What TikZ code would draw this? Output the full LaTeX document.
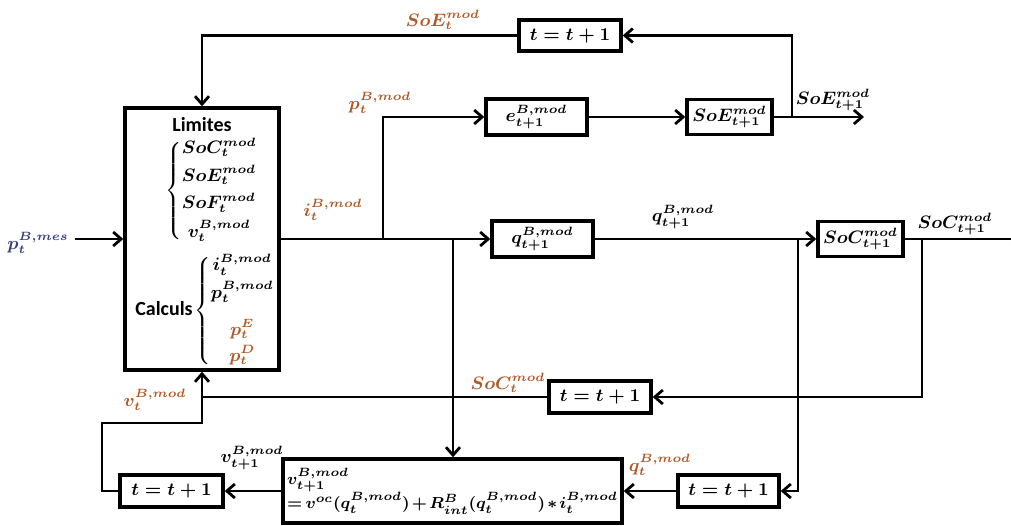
\documentclass[tikz,border=0pt]{standalone}
\usepackage{amsmath}
\usepackage{amssymb}
\usepackage[no-math]{fontspec}
\newfontfamily\calibri{Carlito}
\usepackage{tikz}
\usetikzlibrary{arrows.meta}
\definecolor{modorange}{RGB}{176,88,38}
\definecolor{mesblue}{RGB}{52,62,130}

\begin{document}
\begin{tikzpicture}[x=0.5pt, y=-0.5pt,
    box/.style={draw, line width=1.7pt, inner sep=0pt, font=\small\boldmath},
    lbl/.style={inner sep=0pt, font=\small\boldmath},
    word/.style={inner sep=0pt, font=\calibri\bfseries},
    flow/.style={line width=1.4pt, -{Straight Barb[length=4pt, width=7pt, line width=1.4pt]}},
    wire/.style={line width=1.4pt}]
    \useasboundingbox (0,0) rectangle (1011,525);

    % main block
    \node[box, minimum width=77pt, minimum height=131pt] (main) at (202,239) {};
    \node[word] (limites) at (202,125) {Limites};
    \node[lbl, anchor=west] (limvars) at (165,191)
        {$\left\{\begin{array}{@{}l@{}} SoC_t^{mod}\\[2.5pt] SoE_t^{mod}\\[2.5pt] SoF_t^{mod}\\[2.5pt] \;v_t^{B,mod}\end{array}\right.$};
    \node[word] (calculs) at (164,309) {Calculs};
    \node[lbl, anchor=west] (calcvars) at (194,311)
        {$\left\{\begin{array}{@{}c@{}} i_t^{B,mod}\\[2pt] p_t^{B,mod}\\[7pt] \color{modorange}p_t^{E}\\[2pt] \color{modorange}p_t^{D}\end{array}\right.$};

    % blocks
    \node[box, minimum width=51pt, minimum height=15.5pt] (tE) at (570,35.5) {$t=t+1$};
    \node[box, minimum width=50.5pt, minimum height=18pt] (eb) at (536.5,117) {$e_{t+1}^{B,mod}$};
    \node[box, minimum width=42.5pt, minimum height=17.5pt] (soe) at (729.5,117) {$SoE_{t+1}^{mod}$};
    \node[box, minimum width=50.5pt, minimum height=18pt] (qb) at (542.5,239) {$q_{t+1}^{B,mod}$};
    \node[box, minimum width=42.5pt, minimum height=17.5pt] (soc) at (860.5,239) {$SoC_{t+1}^{mod}$};
    \node[box, minimum width=51pt, minimum height=16pt] (tC) at (600,397) {$t=t+1$};
    \node[box, minimum width=51.5pt, minimum height=16pt] (tV) at (171.5,491) {$t=t+1$};
    \node[box, minimum width=50.5pt, minimum height=16pt] (tQ) at (728.5,491) {$t=t+1$};
    \node[box, font=\fontsize{8}{10}\selectfont\boldmath, minimum width=169.5pt, minimum height=32pt, align=left] (form) at (452.5,491)
        {$v_{t+1}^{B,mod}$\\[-1pt] $\medmuskip=2mu\thickmuskip=3mu =v^{oc}(q_t^{B,mod})+R_{int}^{B}(q_t^{B,mod})\ast i_t^{B,mod}$};

    % labels
    \node[lbl, mesblue] (lpmes) at (38,243) {$p_t^{B,mes}$};
    \node[lbl, modorange] (lsoet) at (443,20) {$SoE_t^{mod}$};
    \node[lbl, modorange] (lpmod) at (380,103) {$p_t^{B,mod}$};
    \node[lbl, modorange] (limod) at (333,210) {$i_t^{B,mod}$};
    \node[lbl] (lsoen) at (833,100) {$SoE_{t+1}^{mod}$};
    \node[lbl] (lqn) at (683,217) {$q_{t+1}^{B,mod}$};
    \node[lbl] (lsocn) at (955,224) {$SoC_{t+1}^{mod}$};
    \node[lbl, modorange] (lsoct) at (508,383) {$SoC_t^{mod}$};
    \node[lbl, modorange] (lvt) at (155,400) {$v_t^{B,mod}$};
    \node[lbl] (lvn) at (252,458) {$v_{t+1}^{B,mod}$};
    \node[lbl, modorange] (lqt) at (660,465) {$q_t^{B,mod}$};

    % junctions and free ends
    \coordinate (in) at (75,239);
    \coordinate (jp) at (383,239);
    \coordinate (jv) at (453,239);
    \coordinate (je) at (792,117);
    \coordinate (outE) at (864,117);
    \coordinate (jq) at (798,239);
    \coordinate (jc) at (922,239);
    \coordinate (outC) at (1022,239);
    \coordinate (bend) at (102,423);

    % connectors
    \draw[flow] (in) -- (main.west);
    \draw[flow] (main.east) -- (qb.west);
    \draw[flow] (jp) |- (eb.west);
    \draw[flow] (jv) -- (jv |- form.north);
    \draw[flow] (eb.east) -- (soe.west);
    \draw[flow] (soe.east) -- (outE);
    \draw[flow] (je) |- (tE.east);
    \draw[flow] (tE.west) -| (main.north);
    \draw[flow] (qb.east) -- (soc.west);
    \draw[flow] (jq) |- (tQ.east);
    \draw[flow] (soc.east) -- (outC);
    \draw[flow] (jc) |- (tC.east);
    \draw[wire] (tC.west) -- (main.south |- tC.west);
    \draw[flow] (tV.west) -| (bend) -- (main.south |- bend) -- (main.south);
    \draw[flow] (form.west) -- (tV.east);
    \draw[flow] (tQ.west) -- (form.east);
\end{tikzpicture}
\end{document}
